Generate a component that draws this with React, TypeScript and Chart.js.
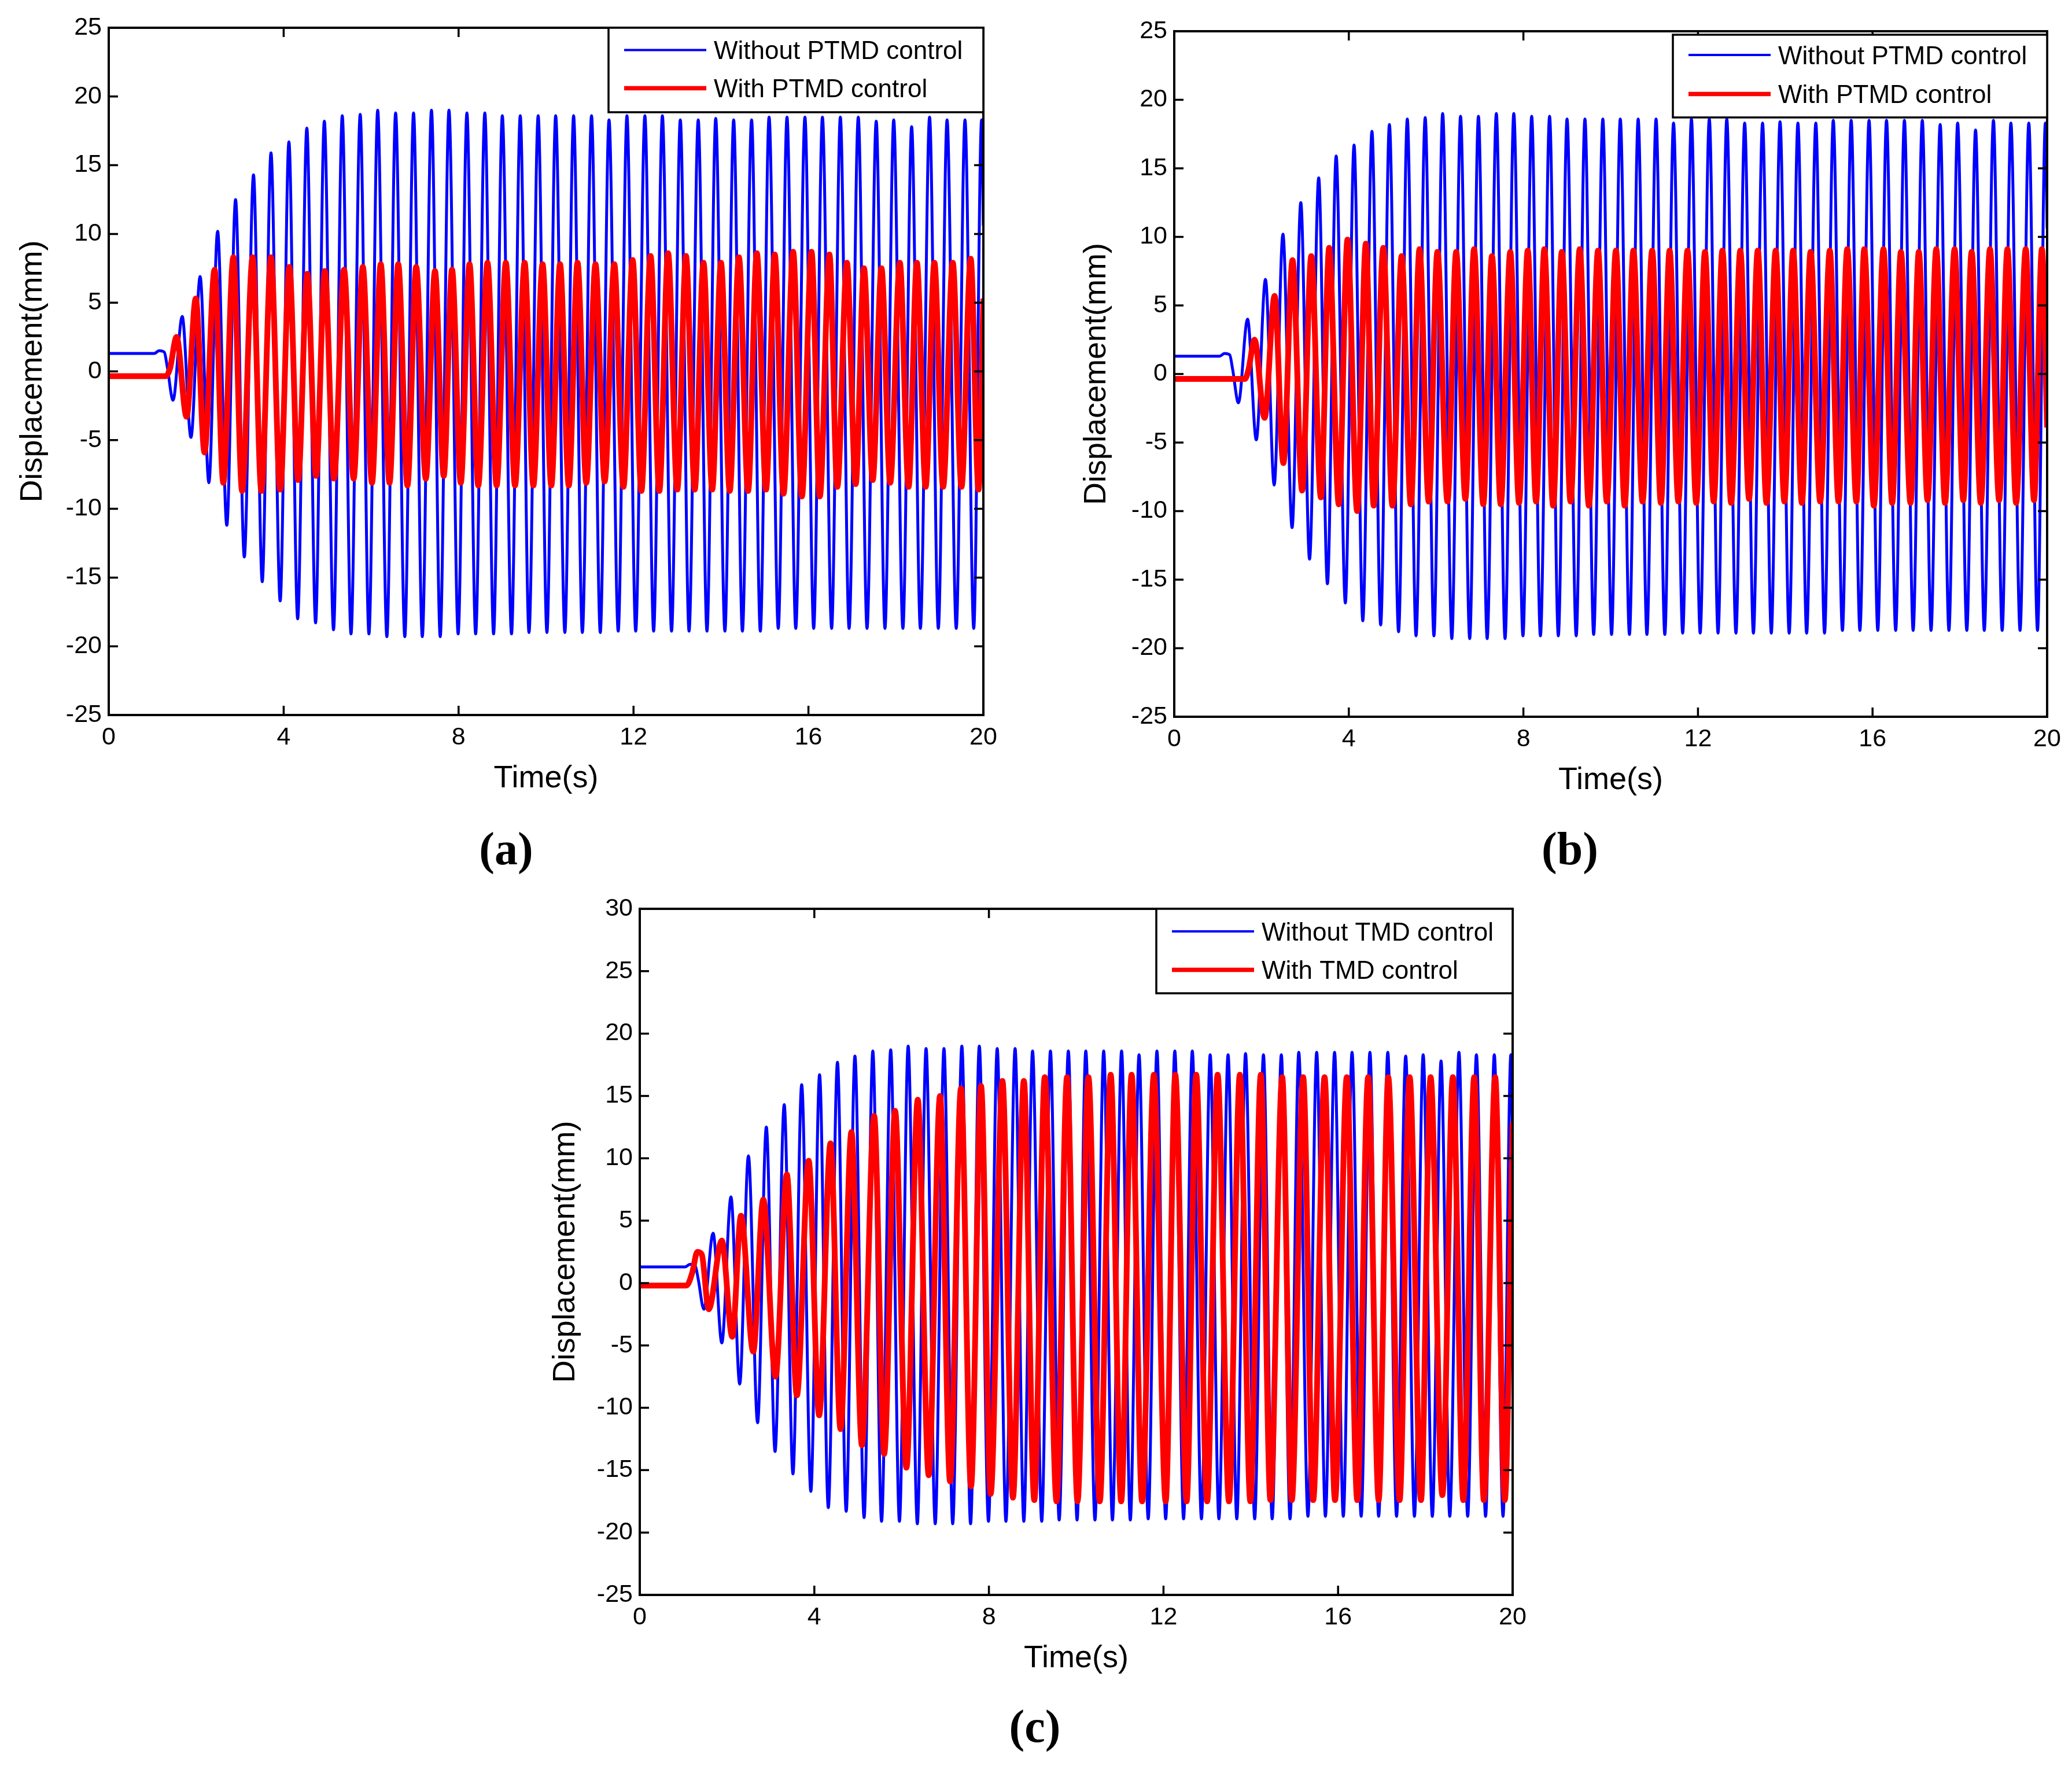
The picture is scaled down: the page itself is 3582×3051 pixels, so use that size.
import React, { useEffect, useRef } from "react";
import { Chart, registerables } from "chart.js";

Chart.register(...registerables);

// ---------------- data ----------------
const X_TICKS = [0, 4, 8, 12, 16, 20];
const Y_TICKS_AB = [-25, -20, -15, -10, -5, 0, 5, 10, 15, 20, 25];
const Y_TICKS_C = [-25, -20, -15, -10, -5, 0, 5, 10, 15, 20, 25, 30];

const LABELS_PTMD = ["Without PTMD control", "With PTMD control"];
const LABELS_TMD = ["Without TMD control", "With TMD control"];
const CAPTIONS = ["(a)", "(b)", "(c)"];
const X_TITLE = "Time(s)";
const Y_TITLE = "Displacement(mm)";

// [time (s), displacement (mm)] at turning points
const WITHOUT_CONTROL: [number, number][] = [
  [0, 1.3], [1.04, 1.3], [1.15, 1.5], [1.27, 1.4], [1.34, 0.3], [1.47, -2.1],
  [1.68, 4.0], [1.88, -4.8], [2.09, 6.9], [2.29, -8.1], [2.49, 10.2], [2.7, -11.2],
  [2.9, 12.5], [3.1, -13.5], [3.31, 14.3], [3.51, -15.3], [3.71, 15.9], [3.92, -16.7],
  [4.12, 16.7], [4.32, -18.0], [4.53, 17.7], [4.73, -18.3], [4.93, 18.2], [5.14, -18.8],
  [5.34, 18.6], [5.54, -19.1], [5.75, 18.7], [5.95, -19.1], [6.15, 19.0], [6.36, -19.3],
  [6.56, 18.8], [6.77, -19.3], [6.97, 18.8], [7.17, -19.3], [7.38, 19.0], [7.58, -19.3],
  [7.78, 19.0], [7.99, -19.1], [8.19, 18.8], [8.39, -19.1], [8.6, 18.8], [8.8, -19.1],
  [9.0, 18.6], [9.21, -19.1], [9.41, 18.6], [9.61, -19.0], [9.82, 18.6], [10.02, -19.0],
  [10.22, 18.6], [10.43, -19.0], [10.63, 18.6], [10.83, -19.0], [11.04, 18.6], [11.24, -19.0],
  [11.44, 18.3], [11.65, -18.9], [11.85, 18.6], [12.05, -18.9], [12.26, 18.6], [12.46, -18.9],
  [12.66, 18.6], [12.87, -18.9], [13.07, 18.3], [13.27, -18.9], [13.48, 18.3], [13.68, -18.9],
  [13.88, 18.4], [14.09, -18.9], [14.29, 18.3], [14.49, -18.9], [14.7, 18.3], [14.9, -18.9],
  [15.1, 18.5], [15.31, -18.7], [15.51, 18.5], [15.71, -18.7], [15.92, 18.5], [16.12, -18.7],
  [16.32, 18.5], [16.53, -18.7], [16.73, 18.5], [16.93, -18.7], [17.14, 18.5], [17.34, -18.7],
  [17.55, 18.2], [17.75, -18.7], [17.95, 18.3], [18.16, -18.7], [18.36, 17.8], [18.56, -18.7],
  [18.77, 18.5], [18.97, -18.7], [19.17, 18.3], [19.38, -18.7], [19.58, 18.3], [19.78, -18.7],
  [19.96, 18.3], [20.0, 10.6],
];

const WITH_PTMD_A: [number, number][] = [
  [0, -0.35], [1.3, -0.35], [1.4, 0.2], [1.55, 2.5], [1.78, -3.3], [1.99, 5.3],
  [2.19, -5.9], [2.42, 7.4], [2.62, -8.1], [2.85, 8.3], [3.05, -8.7], [3.29, 8.3],
  [3.49, -8.7], [3.71, 8.3], [3.92, -8.6], [4.13, 7.6], [4.33, -7.9], [4.54, 7.1],
  [4.74, -7.6], [4.94, 7.3], [5.15, -7.8], [5.38, 7.4], [5.6, -7.8], [5.81, 7.6],
  [6.02, -8.1], [6.22, 7.8], [6.42, -8.1], [6.62, 7.8], [6.83, -8.3], [7.03, 7.6],
  [7.25, -7.8], [7.46, 7.3], [7.66, -7.6], [7.85, 7.4], [8.05, -8.1], [8.25, 7.8],
  [8.45, -8.3], [8.66, 7.9], [8.87, -8.3], [9.08, 7.9], [9.29, -8.3], [9.51, 7.9],
  [9.71, -8.3], [9.92, 7.8], [10.12, -8.3], [10.32, 7.8], [10.52, -8.3], [10.72, 7.9],
  [10.92, -8.1], [11.13, 7.8], [11.34, -8.0], [11.56, 7.8], [11.77, -8.4], [11.98, 8.1],
  [12.18, -8.7], [12.39, 8.4], [12.59, -8.7], [12.79, 8.6], [13.0, -8.6], [13.2, 8.4],
  [13.4, -8.6], [13.6, 7.9], [13.8, -8.6], [14.0, 7.9], [14.2, -8.7], [14.41, 8.3],
  [14.62, -8.7], [14.82, 8.6], [15.03, -8.6], [15.23, 8.5], [15.43, -8.9], [15.65, 8.7],
  [15.85, -9.1], [16.07, 8.7], [16.26, -9.1], [16.48, 8.5], [16.66, -8.4], [16.88, 7.9],
  [17.08, -8.2], [17.27, 7.5], [17.47, -7.9], [17.67, 7.5], [17.87, -8.1], [18.09, 7.9],
  [18.29, -8.4], [18.48, 7.9], [18.68, -8.4], [18.88, 7.9], [19.08, -8.4], [19.3, 7.9],
  [19.5, -8.4], [19.71, 8.2], [19.89, -8.6], [20.0, 5.3],
];

const WITH_PTMD_B: [number, number][] = [
  [0, -0.36], [1.62, -0.36], [1.7, 0.3], [1.84, 2.5], [2.07, -3.2], [2.3, 5.7],
  [2.5, -6.5], [2.71, 8.3], [2.93, -8.5], [3.14, 8.6], [3.36, -9.0], [3.55, 9.2],
  [3.77, -9.5], [3.97, 9.8], [4.19, -10.0], [4.39, 9.5], [4.57, -9.6], [4.79, 9.2],
  [5.0, -9.6], [5.21, 8.6], [5.42, -9.5], [5.62, 9.1], [5.83, -9.3], [6.03, 8.9],
  [6.26, -9.3], [6.46, 8.9], [6.67, -9.1], [6.87, 9.1], [7.08, -9.5], [7.28, 8.6],
  [7.48, -9.5], [7.7, 8.9], [7.9, -9.4], [8.1, 9.0], [8.29, -9.3], [8.48, 9.1],
  [8.68, -9.6], [8.88, 8.9], [9.08, -9.3], [9.29, 9.1], [9.5, -9.6], [9.71, 9.0],
  [9.91, -9.3], [10.12, 9.0], [10.32, -9.6], [10.52, 9.0], [10.73, -9.3], [10.95, 9.0],
  [11.15, -9.4], [11.35, 9.0], [11.55, -9.3], [11.76, 9.0], [11.96, -9.4], [12.16, 8.9],
  [12.36, -9.3], [12.56, 9.0], [12.76, -9.4], [12.97, 9.0], [13.17, -9.1], [13.37, 9.0],
  [13.57, -9.4], [13.78, 9.0], [13.98, -9.3], [14.18, 9.0], [14.38, -9.4], [14.58, 8.9],
  [14.8, -9.3], [15.02, 9.0], [15.22, -9.3], [15.42, 9.1], [15.63, -9.3], [15.81, 9.1],
  [16.03, -9.6], [16.25, 9.1], [16.45, -9.4], [16.65, 8.9], [16.87, -9.4], [17.06, 8.9],
  [17.26, -9.2], [17.46, 9.1], [17.66, -9.4], [17.88, 9.1], [18.08, -9.2], [18.27, 8.9],
  [18.48, -9.4], [18.69, 9.1], [18.9, -9.2], [19.09, 9.1], [19.29, -9.4], [19.51, 9.1],
  [19.7, -9.2], [19.88, 9.1], [20.0, -3.9],
];

const WITH_TMD_C: [number, number][] = [
  [0, -0.2], [1.07, -0.2], [1.2, 0.8], [1.32, 2.5], [1.42, 2.3], [1.58, -2.1],
  [1.88, 3.4], [2.12, -4.3], [2.32, 5.4], [2.6, -5.5], [2.83, 6.7], [3.11, -7.5],
  [3.37, 8.7], [3.6, -9.0], [3.87, 9.8], [4.11, -10.6], [4.37, 11.2], [4.6, -11.7],
  [4.85, 12.1], [5.09, -13.0], [5.37, 13.4], [5.6, -13.7], [5.85, 13.8], [6.11, -14.8],
  [6.37, 14.7], [6.62, -15.4], [6.88, 15.0], [7.11, -15.9], [7.36, 15.6], [7.59, -16.3],
  [7.82, 15.8], [8.04, -16.9], [8.31, 16.2], [8.55, -17.2], [8.8, 16.2], [9.04, -17.4],
  [9.28, 16.5], [9.55, -17.5], [9.79, 16.5], [10.03, -17.5], [10.28, 16.5], [10.54, -17.5],
  [10.79, 16.7], [11.03, -17.5], [11.27, 16.7], [11.51, -17.5], [11.78, 16.7], [12.05, -17.5],
  [12.27, 16.7], [12.53, -17.5], [12.75, 16.7], [13.0, -17.5], [13.24, 16.7], [13.5, -17.5],
  [13.75, 16.7], [13.99, -17.5], [14.23, 16.7], [14.45, -17.4], [14.72, 16.5], [14.94, -17.4],
  [15.2, 16.5], [15.43, -17.4], [15.69, 16.5], [15.93, -17.4], [16.2, 16.5], [16.44, -17.4],
  [16.69, 16.5], [16.93, -17.4], [17.15, 16.5], [17.41, -17.4], [17.64, 16.5], [17.9, -17.4],
  [18.12, 16.5], [18.39, -17.0], [18.63, 16.5], [18.87, -17.4], [19.12, 16.5], [19.34, -17.4],
  [19.6, 16.5], [19.82, -17.4], [20.0, 12.9],
];

// ---------------- layout / style ----------------
const PAGE_W = 3582;
const PAGE_H = 3051;
const YW = 185; // y-scale box width
const XH = 150; // x-scale box height
const PAD_T = 44;
const PAD_R = 54;
const FONT = '"Liberation Sans", Arial, Helvetica, sans-serif';
const TICK_FONT = 43;
const TITLE_FONT = 54;
const LEGEND_FONT = 44;
const BLUE = "#0000ff";
const RED = "#ff0000";

type Panel = {
  area: { left: number; top: number; right: number; bottom: number };
  yMin: number;
  yMax: number;
  yTicks: number[];
  series: [number, number][][];
  labels: string[];
  yTitleOffset: number;
  legend: { width: number; height: number; top: number; rows: number[] };
  caption: string;
  captionX: number;
  captionY: number;
};

const PANELS: Panel[] = [
  {
    area: { left: 188, top: 48, right: 1700, bottom: 1236 },
    yMin: -25, yMax: 25, yTicks: Y_TICKS_AB,
    series: [WITHOUT_CONTROL, WITH_PTMD_A], labels: LABELS_PTMD,
    yTitleOffset: 131,
    legend: { width: 648, height: 146, top: 0, rows: [38.5, 104.5] },
    caption: CAPTIONS[0], captionX: 875, captionY: 1467,
  },
  {
    area: { left: 2030, top: 54, right: 3539, bottom: 1239 },
    yMin: -25, yMax: 25, yTicks: Y_TICKS_AB,
    series: [WITHOUT_CONTROL, WITH_PTMD_B], labels: LABELS_PTMD,
    yTitleOffset: 134,
    legend: { width: 647, height: 143, top: 6, rows: [35, 102.5] },
    caption: CAPTIONS[1], captionX: 2714, captionY: 1467,
  },
  {
    area: { left: 1106, top: 1571, right: 2615, bottom: 2757 },
    yMin: -25, yMax: 30, yTicks: Y_TICKS_C,
    series: [WITHOUT_CONTROL, WITH_TMD_C], labels: LABELS_TMD,
    yTitleOffset: 128,
    legend: { width: 616, height: 146, top: 0, rows: [39, 105.5] },
    caption: CAPTIONS[2], captionX: 1789, captionY: 2984,
  },
];

const framePlugin = {
  id: "matlabFrame",
  afterDatasetsDraw(chart: any, _args: any, opts: any) {
    const { ctx, chartArea: a, scales } = chart;
    ctx.save();
    // inward ticks on all four sides
    ctx.strokeStyle = "#000";
    ctx.lineWidth = 3.5;
    const TL = 16;
    ctx.beginPath();
    scales.x.ticks.forEach((t: any) => {
      const px = scales.x.getPixelForValue(t.value);
      ctx.moveTo(px, a.bottom);
      ctx.lineTo(px, a.bottom - TL);
      ctx.moveTo(px, a.top);
      ctx.lineTo(px, a.top + TL);
    });
    scales.y.ticks.forEach((t: any) => {
      const py = scales.y.getPixelForValue(t.value);
      ctx.moveTo(a.left, py);
      ctx.lineTo(a.left + TL, py);
      ctx.moveTo(a.right, py);
      ctx.lineTo(a.right - TL, py);
    });
    ctx.stroke();
    // frame
    ctx.lineWidth = 4;
    ctx.strokeRect(a.left, a.top, a.right - a.left, a.bottom - a.top);

    // legend box
    const L = opts.legend;
    const x0 = a.right - L.width;
    const y0 = a.top + L.top;
    ctx.fillStyle = "#fff";
    ctx.fillRect(x0, y0, L.width, L.height);
    ctx.lineWidth = 3.5;
    ctx.strokeStyle = "#000";
    ctx.strokeRect(x0, y0, L.width, L.height);
    const lineStart = 27;
    const lineLen = 142;
    const gap = 13;
    chart.data.datasets.forEach((ds: any, i: number) => {
      const y = y0 + L.rows[i];
      ctx.strokeStyle = ds.borderColor;
      ctx.lineWidth = i === 0 ? 4 : 7.5;
      ctx.lineCap = "butt";
      ctx.beginPath();
      ctx.moveTo(x0 + lineStart, y);
      ctx.lineTo(x0 + lineStart + lineLen, y);
      ctx.stroke();
      ctx.fillStyle = "#000";
      ctx.font = `${LEGEND_FONT}px ${FONT}`;
      ctx.textAlign = "left";
      ctx.textBaseline = "alphabetic";
      ctx.fillText(ds.label, x0 + lineStart + lineLen + gap, y + LEGEND_FONT * 0.358);
    });
    ctx.restore();
  },
};

function PanelChart({ p }: { p: Panel }) {
  const ref = useRef<HTMLCanvasElement | null>(null);
  const w = YW + (p.area.right - p.area.left) + PAD_R;
  const h = PAD_T + (p.area.bottom - p.area.top) + XH;
  useEffect(() => {
    const canvas = ref.current;
    if (!canvas) return;
    const chart = new Chart(canvas, {
      type: "line",
      data: {
        datasets: [
          {
            label: p.labels[0],
            data: p.series[0].map(([x, y]) => ({ x, y })),
            borderColor: BLUE,
            backgroundColor: BLUE,
            borderWidth: 5,
            pointRadius: 0,
            cubicInterpolationMode: "monotone",
            borderJoinStyle: "round",
            fill: false,
            order: 1,
          },
          {
            label: p.labels[1],
            data: p.series[1].map(([x, y]) => ({ x, y })),
            borderColor: RED,
            backgroundColor: RED,
            borderWidth: 10,
            pointRadius: 0,
            cubicInterpolationMode: "monotone",
            borderJoinStyle: "round",
            fill: false,
            order: 0,
          },
        ],
      },
      options: {
        responsive: false,
        animation: false,
        devicePixelRatio: 1,
        events: [],
        layout: { autoPadding: false, padding: { left: 0, top: PAD_T, right: PAD_R, bottom: 0 } },
        plugins: {
          legend: { display: false },
          tooltip: { enabled: false },
          matlabFrame: { legend: p.legend },
        } as any,
        scales: {
          x: {
            type: "linear",
            min: 0,
            max: 20,
            afterBuildTicks: (s: any) => {
              s.ticks = X_TICKS.map((value) => ({ value }));
            },
            afterFit: (s: any) => {
              s.height = XH;
            },
            grid: { display: false, drawTicks: false },
            border: { display: false },
            ticks: {
              padding: 18,
              color: "#000",
              font: { family: FONT, size: TICK_FONT, lineHeight: 1 },
              maxRotation: 0,
              autoSkip: false,
            },
            title: {
              display: true,
              text: X_TITLE,
              color: "#000",
              font: { family: FONT, size: TITLE_FONT, lineHeight: 1 },
              padding: { top: 0, bottom: XH - 110 - TITLE_FONT / 2 },
            },
          },
          y: {
            type: "linear",
            min: p.yMin,
            max: p.yMax,
            afterBuildTicks: (s: any) => {
              s.ticks = p.yTicks.map((value) => ({ value }));
            },
            afterFit: (s: any) => {
              s.width = YW;
            },
            grid: { display: false, drawTicks: false },
            border: { display: false },
            ticks: {
              padding: 12,
              color: "#000",
              font: { family: FONT, size: TICK_FONT, lineHeight: 1 },
              autoSkip: false,
            },
            title: {
              display: true,
              text: Y_TITLE,
              color: "#000",
              font: { family: FONT, size: TITLE_FONT, lineHeight: 1 },
              padding: { top: YW - p.yTitleOffset - TITLE_FONT / 2, bottom: 0 },
            },
          },
        },
      } as any,
      plugins: [framePlugin],
    });
    return () => chart.destroy();
  }, [p]);
  return (
    <canvas
      ref={ref}
      width={w}
      height={h}
      style={{
        position: "absolute",
        left: p.area.left - YW,
        top: p.area.top - PAD_T,
        width: w,
        height: h,
      }}
    />
  );
}

export default function App() {
  return (
    <div
      style={{
        position: "absolute",
        left: 0,
        top: 0,
        width: PAGE_W,
        height: PAGE_H,
        background: "#fff",
        overflow: "hidden",
      }}
    >
      {PANELS.map((p, i) => (
        <React.Fragment key={i}>
          <PanelChart p={p} />
          <div
            style={{
              position: "absolute",
              left: p.captionX,
              top: p.captionY,
              transform: "translate(-50%, -50%)",
              fontFamily: '"Liberation Serif", "Times New Roman", serif',
              fontWeight: "bold",
              fontSize: 80,
              lineHeight: 1,
              color: "#000",
              whiteSpace: "nowrap",
            }}
          >
            {p.caption}
          </div>
        </React.Fragment>
      ))}
    </div>
  );
}
